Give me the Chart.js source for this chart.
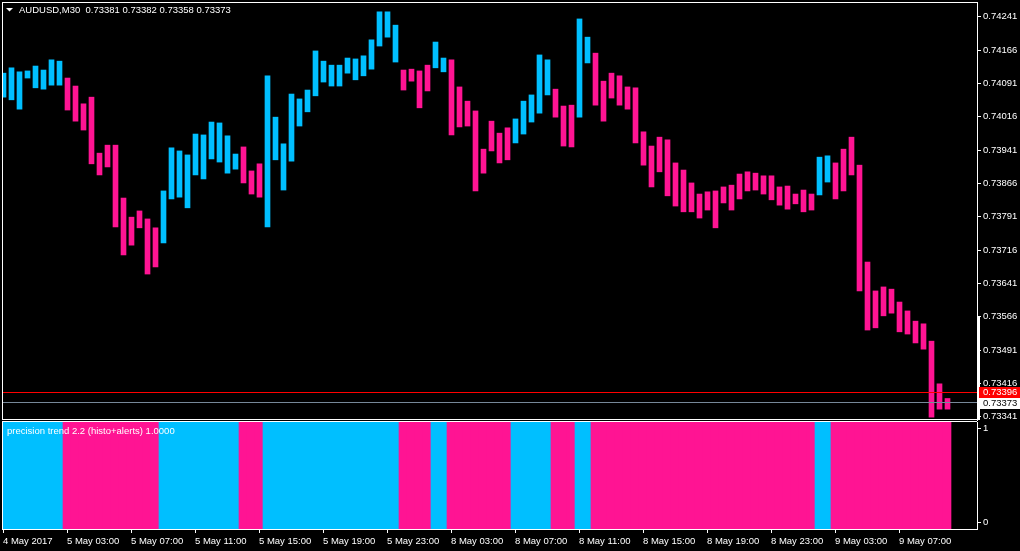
<!DOCTYPE html>
<html>
<head>
<meta charset="utf-8">
<title>AUDUSD,M30</title>
<script src="https://cdn.jsdelivr.net/npm/chart.js@4.4.1/dist/chart.umd.min.js"></script>
<style>
  html, body { margin: 0; padding: 0; background: #000; }
  body { width: 1020px; height: 551px; position: relative; overflow: hidden; }
  #mainBox { position: absolute; left: 0; top: 0; width: 1020px; height: 421px; }
  #histBox { position: absolute; left: 0; top: 421px; width: 1020px; height: 130px; }
</style>
</head>
<body>
<div id="mainBox"><canvas id="price"></canvas></div>
<div id="histBox"><canvas id="trend"></canvas></div>
<script>
// AUDUSD M30 bars, 4 May 2017 23:00 .. 9 May 2017 10:00 (high / low)
var highs = [
  0.74114, 0.74126, 0.74117, 0.74119, 0.74130, 0.74121, 0.74144, 0.74141, 0.74103, 0.74085,
  0.74045, 0.74060, 0.73934, 0.73952, 0.73952, 0.73833, 0.73790, 0.73804, 0.73786, 0.73766,
  0.73849, 0.73946, 0.73939, 0.73930, 0.73977, 0.73975, 0.74004, 0.74002, 0.73973, 0.73932,
  0.73948, 0.73894, 0.73910, 0.74108, 0.74015, 0.73955, 0.74067, 0.74056, 0.74076, 0.74164,
  0.74141, 0.74132, 0.74132, 0.74148, 0.74146, 0.74153, 0.74189, 0.74252, 0.74252, 0.74222,
  0.74121, 0.74123, 0.74119, 0.74132, 0.74184, 0.74148, 0.74144, 0.74083, 0.74051, 0.74029,
  0.73943, 0.74006, 0.73979, 0.73991, 0.74011, 0.74051, 0.74065, 0.74155, 0.74144, 0.74078,
  0.74040, 0.74042, 0.74236, 0.74195, 0.74159, 0.74096, 0.74114, 0.74108, 0.74083, 0.74081,
  0.73982, 0.73950, 0.73970, 0.73964, 0.73912, 0.73896, 0.73867, 0.73842, 0.73847, 0.73849,
  0.73858, 0.73862, 0.73887, 0.73892, 0.73889, 0.73883, 0.73883, 0.73858, 0.73860, 0.73842,
  0.73851, 0.73842, 0.73925, 0.73928, 0.73912, 0.73943, 0.73970, 0.73907, 0.73689, 0.73624,
  0.73633, 0.73628, 0.73599, 0.73579, 0.73556, 0.73550, 0.73511, 0.73415, 0.73382
];
var lows = [
  0.74060, 0.74054, 0.74033, 0.74103, 0.74081, 0.74078, 0.74087, 0.74087, 0.74031, 0.74006,
  0.73986, 0.73910, 0.73885, 0.73903, 0.73768, 0.73705, 0.73727, 0.73766, 0.73662, 0.73678,
  0.73732, 0.73831, 0.73835, 0.73811, 0.73885, 0.73876, 0.73921, 0.73914, 0.73889, 0.73898,
  0.73867, 0.73842, 0.73835, 0.73768, 0.73919, 0.73851, 0.73916, 0.73995, 0.74027, 0.74063,
  0.74094, 0.74085, 0.74085, 0.74114, 0.74099, 0.74108, 0.74123, 0.74175, 0.74195, 0.74139,
  0.74076, 0.74096, 0.74036, 0.74074, 0.74126, 0.74117, 0.73975, 0.73993, 0.73995, 0.73849,
  0.73889, 0.73939, 0.73912, 0.73919, 0.73957, 0.73977, 0.74004, 0.74024, 0.74065, 0.74015,
  0.73950, 0.73948, 0.74015, 0.74137, 0.74042, 0.74006, 0.74058, 0.74042, 0.74033, 0.73957,
  0.73907, 0.73858, 0.73892, 0.73838, 0.73815, 0.73802, 0.73802, 0.73788, 0.73806, 0.73766,
  0.73822, 0.73806, 0.73831, 0.73849, 0.73851, 0.73842, 0.73829, 0.73817, 0.73808, 0.73820,
  0.73802, 0.73806, 0.73840, 0.73869, 0.73831, 0.73849, 0.73885, 0.73624, 0.73536, 0.73541,
  0.73568, 0.73574, 0.73532, 0.73527, 0.73507, 0.73493, 0.73340, 0.73358, 0.73358
];
// precision trend 2.2 direction per bar: 1 = up (blue), -1 = down (pink)
var trend = [
   1, 1, 1, 1, 1, 1, 1, 1,-1,-1,-1,-1,-1,-1,-1,-1,-1,-1,-1,-1,
   1, 1, 1, 1, 1, 1, 1, 1, 1, 1,-1,-1,-1, 1, 1, 1, 1, 1, 1, 1,
   1, 1, 1, 1, 1, 1, 1, 1, 1, 1,-1,-1,-1,-1, 1, 1,-1,-1,-1,-1,
  -1,-1,-1,-1, 1, 1, 1, 1, 1,-1,-1,-1, 1, 1,-1,-1,-1,-1,-1,-1,
  -1,-1,-1,-1,-1,-1,-1,-1,-1,-1,-1,-1,-1,-1,-1,-1,-1,-1,-1,-1,
  -1,-1, 1, 1,-1,-1,-1,-1,-1,-1,-1,-1,-1,-1,-1,-1,-1,-1,-1
];
// histogram value of the indicator (always 1, the colour carries the trend)
var histo = [
  1,1,1,1,1,1,1,1,1,1,1,1,1,1,1,1,1,1,1,1,1,1,1,1,1,1,1,1,1,1,
  1,1,1,1,1,1,1,1,1,1,1,1,1,1,1,1,1,1,1,1,1,1,1,1,1,1,1,1,1,1,
  1,1,1,1,1,1,1,1,1,1,1,1,1,1,1,1,1,1,1,1,1,1,1,1,1,1,1,1,1,1,
  1,1,1,1,1,1,1,1,1,1,1,1,1,1,1,1,1,1,1,1,1,1,1,1,1,1,1,1,1
];
var timeLabels = ['4 May 2017', '5 May 03:00', '5 May 07:00', '5 May 11:00', '5 May 15:00',
  '5 May 19:00', '5 May 23:00', '8 May 03:00', '8 May 07:00', '8 May 11:00', '8 May 15:00',
  '8 May 19:00', '8 May 23:00', '9 May 03:00', '9 May 07:00'];
var priceTicks = [0.74241, 0.74166, 0.74091, 0.74016, 0.73941, 0.73866, 0.73791,
  0.73716, 0.73641, 0.73566, 0.73491, 0.73416, 0.73341];
var histTicks = [0, 1];
var lastOpen = 0.73381, lastClose = 0.73373;
var askPrice = 0.73396, bidPrice = 0.73373;

var UP = '#00bfff', DOWN = '#ff1493';
var FONT = { family: '"Liberation Sans", Arial, sans-serif', size: 9.5 };
var FONT_CSS = '9.5px "Liberation Sans", Arial, sans-serif';
var BARS_PER_LABEL = 8;
var HISTO_CAP = 0.07; // MT4 draws the thick histogram line with square caps

Chart.defaults.font.family = FONT.family;
Chart.defaults.font.size = FONT.size;
Chart.defaults.color = '#ffffff';

var colors = trend.map(function (t) { return t > 0 ? UP : DOWN; });

// keep the axes from pushing the plot area inwards
function noPad(s) {
  s.paddingTop = 0; s.paddingBottom = 0; s.paddingLeft = 0; s.paddingRight = 0;
}

// frame, price lines, labels of the main window
var priceFrame = {
  id: 'priceFrame',
  afterDraw: function (chart) {
    var ctx = chart.ctx, ca = chart.chartArea, y = chart.scales.y;
    var w = ca.right - ca.left;
    ctx.save();
    var ya = Math.round(y.getPixelForValue(askPrice));
    var yb = Math.round(y.getPixelForValue(bidPrice));
    ctx.fillStyle = '#ff0000';
    ctx.fillRect(ca.left, ya, w, 1);
    ctx.fillStyle = '#778899';
    ctx.fillRect(ca.left, yb, w, 1);

    ctx.fillStyle = '#ffffff';
    ctx.fillRect(ca.left, ca.top, w, 1);
    ctx.fillRect(ca.left, ca.top, 1, ca.bottom - ca.top);
    ctx.fillRect(ca.left, ca.bottom - 1, w + 1, 1);
    ctx.fillRect(ca.right + 1, 316, 2, ca.bottom - 316);

    ctx.font = FONT_CSS;
    ctx.textBaseline = 'middle';
    ctx.textAlign = 'left';
    ctx.fillStyle = '#ff0000';
    ctx.fillRect(ca.right + 2, ya - 5, 41, 11);
    ctx.fillStyle = '#ffffff';
    ctx.fillText(askPrice.toFixed(5), ca.right + 6, ya + 0.5);
    ctx.fillStyle = '#ffffff';
    ctx.fillRect(ca.right + 2, yb - 4, 41, 11);
    ctx.fillStyle = '#000000';
    ctx.fillText(bidPrice.toFixed(5), ca.right + 6, yb + 1.5);

    // title
    var n = highs.length - 1;
    ctx.fillStyle = '#ffffff';
    ctx.beginPath();
    ctx.moveTo(6, 8); ctx.lineTo(13, 8); ctx.lineTo(9.5, 11.5); ctx.closePath();
    ctx.fill();
    ctx.fillText('AUDUSD,M30  ' + lastOpen.toFixed(5) + ' ' + highs[n].toFixed(5) + ' ' +
      lows[n].toFixed(5) + ' ' + lastClose.toFixed(5), 19, 10.5);
    ctx.restore();
  }
};

var histFrame = {
  id: 'histFrame',
  afterDraw: function (chart) {
    var ctx = chart.ctx, ca = chart.chartArea;
    ctx.save();
    ctx.fillStyle = '#ffffff';
    ctx.fillRect(ca.left, ca.top - 1, ca.right - ca.left, 1);
    ctx.fillRect(ca.left, ca.top - 1, 1, ca.bottom - ca.top + 1);
    ctx.font = FONT_CSS;
    ctx.textBaseline = 'middle';
    ctx.fillText('precision trend 2.2 (histo+alerts) 1.0000', ca.left + 5, ca.top + 9.5);
    ctx.restore();
  }
};

new Chart(document.getElementById('price').getContext('2d'), {
  type: 'bar',
  data: {
    datasets: [{
      data: highs.map(function (h, i) { return { x: i, y: [lows[i], h] }; }),
      backgroundColor: colors,
      borderWidth: 0,
      barThickness: 5
    }]
  },
  options: {
    responsive: true,
    maintainAspectRatio: false,
    animation: false,
    layout: { padding: { left: 2, top: 2, right: 0, bottom: 1 } },
    plugins: { legend: { display: false }, tooltip: { enabled: false } },
    scales: {
      x: { type: 'linear', display: false, offset: false, grid: { offset: false },
        min: -0.1875, max: 121.6875 },
      y: {
        position: 'right',
        min: 0.733336,
        max: 0.742741,
        afterBuildTicks: function (s) { s.ticks = priceTicks.map(function (v) { return { value: v }; }); },
        afterFit: function (s) { s.width = 43; noPad(s); },
        ticks: { color: '#ffffff', padding: 2, autoSkip: false, font: FONT,
          callback: function (v) { return v.toFixed(5); } },
        grid: { drawOnChartArea: false, drawTicks: true, tickLength: 4, color: '#ffffff' },
        border: { color: '#ffffff' }
      }
    }
  },
  plugins: [priceFrame]
});

new Chart(document.getElementById('trend').getContext('2d'), {
  type: 'bar',
  data: {
    datasets: [{
      data: histo.map(function (v, i) { return { x: i, y: [-HISTO_CAP, v + HISTO_CAP] }; }),
      backgroundColor: colors,
      borderWidth: 0,
      barThickness: 8
    }]
  },
  options: {
    responsive: true,
    maintainAspectRatio: false,
    animation: false,
    layout: { padding: { left: 2, top: 1, right: 0, bottom: 0 } },
    plugins: { legend: { display: false }, tooltip: { enabled: false } },
    scales: {
      x: {
        type: 'linear',
        offset: false,
        min: -0.125,
        max: 121.75,
        afterBuildTicks: function (s) {
          s.ticks = timeLabels.map(function (t, k) { return { value: k * BARS_PER_LABEL }; });
        },
        afterFit: function (s) { s.height = 22; noPad(s); },
        ticks: { color: '#ffffff', align: 'start', maxRotation: 0, autoSkip: false, padding: 3, font: FONT,
          callback: function (v) { return timeLabels[Math.round(v / BARS_PER_LABEL)]; } },
        grid: { offset: false, drawOnChartArea: false, drawTicks: true, tickLength: 4, color: '#ffffff' },
        border: { color: '#ffffff' }
      },
      y: {
        position: 'right',
        min: -HISTO_CAP,
        max: 1 + HISTO_CAP,
        afterBuildTicks: function (s) { s.ticks = histTicks.map(function (v) { return { value: v }; }); },
        afterFit: function (s) { s.width = 43; noPad(s); },
        ticks: { color: '#ffffff', padding: 2, autoSkip: false, font: FONT,
          callback: function (v) { return String(v); } },
        grid: { drawOnChartArea: false, drawTicks: true, tickLength: 4, color: '#ffffff' },
        border: { color: '#ffffff' }
      }
    }
  },
  plugins: [histFrame]
});
</script>
</body>
</html>
